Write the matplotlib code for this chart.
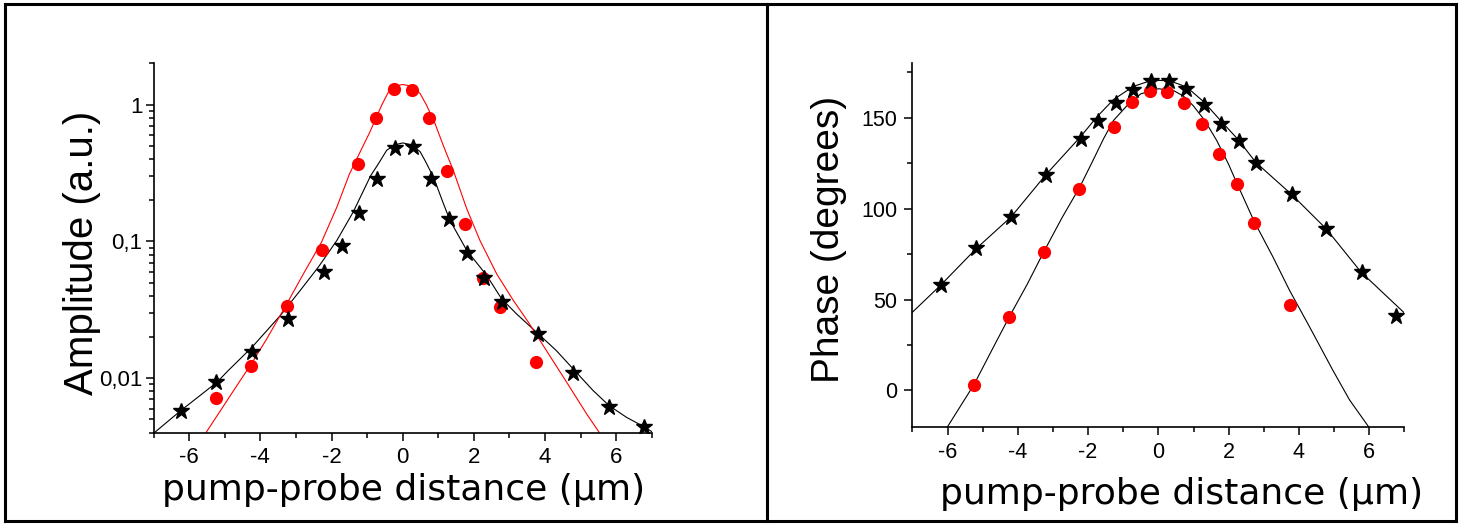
import matplotlib
matplotlib.use("Agg")
import matplotlib.pyplot as plt
from matplotlib import font_manager
from matplotlib.lines import Line2D
from matplotlib.ticker import (MultipleLocator, FixedLocator, LogLocator,
                               FixedFormatter, NullFormatter)

# ---- amplitude panel (log scale) ----
amp_circle_x = [-5.24, -4.26, -3.26, -2.26, -1.27, -0.76, -0.24, 0.25, 0.75,
                1.25, 1.75, 2.25, 2.73, 3.74]
amp_circle_y = [0.00714, 0.0122, 0.0336, 0.0869, 0.366, 0.803, 1.294, 1.286,
                0.803, 0.327, 0.133, 0.0542, 0.0330, 0.0132]

amp_star_x = [-6.24, -5.25, -4.24, -3.21, -2.21, -1.71, -1.22, -0.71, -0.22,
              0.30, 0.80, 1.30, 1.80, 2.29, 2.80, 3.79, 4.79, 5.80, 6.79]
amp_star_y = [0.00573, 0.00933, 0.0155, 0.0269, 0.0596, 0.0918, 0.162, 0.287,
              0.484, 0.490, 0.284, 0.145, 0.0826, 0.0544, 0.0363, 0.0211,
              0.0109, 0.00619, 0.00443]

amp_fit_black_x = [-7.00, -6.24, -5.22, -4.90, -4.24, -3.44, -2.88, -2.37,
                   -1.85, -1.39, -0.90, -0.68, -0.45, -0.22, 0.00, 0.25, 0.49,
                   0.65, 0.88, 1.14, 1.33, 1.80, 2.36, 2.78, 3.20, 3.76, 4.32,
                   4.79, 5.35, 5.80, 6.29, 6.81, 7.00]
amp_fit_black_y = [0.00396, 0.00579, 0.00935, 0.0114, 0.0168, 0.0287, 0.0438,
                   0.0649, 0.1016, 0.164, 0.302, 0.370, 0.463, 0.507, 0.524,
                   0.507, 0.452, 0.380, 0.288, 0.190, 0.142, 0.0859, 0.0564,
                   0.0380, 0.0295, 0.0217, 0.0159, 0.0117, 0.00813, 0.00631,
                   0.00518, 0.00438, 0.00407]

amp_fit_red_x = [-5.52, -4.60, -4.24, -3.82, -3.31, -2.79, -2.28, -1.85, -1.50,
                 -1.20, -0.92, -0.59, -0.40, -0.245, 0.00, 0.25, 0.49, 0.67,
                 0.91, 1.14, 1.42, 1.80, 2.17, 2.64, 3.11, 3.53, 4.04, 4.61,
                 5.17, 5.52]
amp_fit_red_y = [0.00403, 0.00933, 0.0129, 0.0194, 0.0330, 0.0579, 0.0989,
                 0.178, 0.309, 0.448, 0.631, 0.989, 1.236, 1.361, 1.400, 1.361,
                 1.202, 0.989, 0.724, 0.502, 0.331, 0.173, 0.1016, 0.0579,
                 0.0370, 0.0257, 0.0159, 0.00933, 0.00548, 0.00403]

amp_ticks = [0.01, 0.1, 1]
amp_ticklabels = ["0,01", "0,1", "1"]

# ---- phase panel ----
ph_star_x = [-6.20, -5.19, -4.20, -3.21, -2.21, -1.71, -1.21, -0.71, -0.22,
             0.29, 0.79, 1.29, 1.78, 2.28, 2.78, 3.79, 4.78, 5.78, 6.77]
ph_star_y = [58.0, 78.2, 95.6, 118.6, 138.2, 148.0, 158.1, 165.5, 170.2, 170.2,
             166.0, 157.0, 146.5, 137.5, 125.0, 107.8, 88.8, 64.9, 40.9]

ph_circle_x = [-5.25, -4.25, -3.26, -2.25, -1.25, -0.76, -0.25, 0.24, 0.73,
               1.23, 1.73, 2.24, 2.73, 3.74]
ph_circle_y = [3.0, 40.4, 76.4, 111.0, 144.9, 158.6, 164.5, 164.4, 158.0,
               146.7, 130.1, 113.8, 92.3, 47.1]

ph_fit_star_x = [-7.00, -6.19, -5.18, -4.19, -3.21, -2.22, -1.75, -1.28, -0.71,
                 -0.24, 0.05, 0.33, 0.80, 1.28, 1.77, 2.27, 2.77, 3.78, 4.77,
                 5.77, 7.00]
ph_fit_star_y = [43.0, 58.0, 78.1, 95.5, 118.5, 139.5, 150.5, 160.0, 167.3,
                 170.3, 170.6, 170.3, 167.0, 159.0, 148.5, 138.0, 125.5, 108.0,
                 89.0, 65.0, 42.6]

ph_fit_circle_x = [-6.00, -5.25, -4.77, -4.25, -3.73, -3.26, -2.74, -2.24,
                   -1.89, -1.56, -1.28, -0.88, -0.50, 0.00, 0.43, 0.71, 0.99,
                   1.32, 1.66, 1.99, 2.24, 2.72, 3.26, 3.73, 4.30, 4.96, 5.44,
                   5.98]
ph_fit_circle_y = [-20.0, 3.1, 21.0, 40.2, 58.5, 76.3, 95.1, 111.8, 125.4,
                   138.5, 148.5, 157.0, 163.2, 166.0, 165.0, 162.0, 156.7,
                   148.5, 137.5, 124.7, 113.7, 93.2, 73.4, 55.1, 35.0, 11.2,
                   -5.3, -20.0]

RED = "#ff0000"
W, H = 1460, 525

names = {f.name for f in font_manager.fontManager.ttflist}
narrow = "Liberation Sans Narrow" if "Liberation Sans Narrow" in names else "Liberation Sans"

plt.rcParams["axes.unicode_minus"] = False
plt.rcParams["font.family"] = ["Liberation Sans", "DejaVu Sans"]

fig = plt.figure(figsize=(W / 100, H / 100), dpi=100)


def px_axes(x0, y0, x1, y1):
    return fig.add_axes([x0 / W, 1 - y1 / H, (x1 - x0) / W, (y1 - y0) / H])


def style(ax):
    for s in ("top", "right"):
        ax.spines[s].set_visible(False)
    for s in ("left", "bottom"):
        ax.spines[s].set_linewidth(1.2)
    ax.tick_params(which="both", direction="out", width=1.1, top=False, right=False)
    ax.tick_params(which="major", length=6)
    ax.tick_params(which="minor", length=3.5)


# left panel
ax1 = px_axes(153.6, 63.3, 651.8, 432.7)
style(ax1)
ax1.set_yscale("log")
ax1.plot(amp_fit_black_x, amp_fit_black_y, color="black", lw=0.8)
ax1.plot(amp_fit_red_x, amp_fit_red_y, color=RED, lw=0.8)
ax1.plot(amp_circle_x, amp_circle_y, "o", ms=9.5, color=RED, mec="none")
ax1.plot(amp_star_x, amp_star_y, "*", ms=12, color="black", mec="black")
ax1.set_xlim(-7, 7)
ax1.set_ylim(0.004, 2.0)
ax1.xaxis.set_major_locator(MultipleLocator(2))
ax1.xaxis.set_minor_locator(MultipleLocator(1))
ax1.yaxis.set_major_locator(FixedLocator(amp_ticks))
ax1.yaxis.set_major_formatter(FixedFormatter(amp_ticklabels))
ax1.yaxis.set_minor_locator(LogLocator(base=10, subs=range(2, 10)))
ax1.yaxis.set_minor_formatter(NullFormatter())
ax1.tick_params(axis="x", pad=4, labelsize=16, labelfontfamily=narrow)
ax1.tick_params(axis="y", pad=2, labelsize=16, labelfontfamily=narrow)
ax1.set_ylabel("Amplitude (a.u.)", fontsize=29, family="Liberation Sans", va="center")
ax1.yaxis.set_label_coords(-0.1437, 0.488)
ax1.set_xlabel("pump-probe distance (\u00b5m)", fontsize=26, family="DejaVu Sans", va="center")
ax1.xaxis.set_label_coords(0.5026, -0.155)

# right panel
ax2 = px_axes(912.4, 63.3, 1404.4, 426.7)
style(ax2)
ax2.plot(ph_fit_star_x, ph_fit_star_y, color="black", lw=0.8)
ax2.plot(ph_fit_circle_x, ph_fit_circle_y, color="black", lw=0.8)
ax2.plot(ph_circle_x, ph_circle_y, "o", ms=9.5, color=RED, mec="none")
ax2.plot(ph_star_x, ph_star_y, "*", ms=12, color="black", mec="black")
ax2.set_xlim(-7, 7)
ax2.set_ylim(-20, 180)
ax2.xaxis.set_major_locator(MultipleLocator(2))
ax2.xaxis.set_minor_locator(MultipleLocator(1))
ax2.yaxis.set_major_locator(MultipleLocator(50))
ax2.yaxis.set_minor_locator(MultipleLocator(25))
ax2.tick_params(axis="x", pad=5, labelsize=15.5, labelfontfamily="Liberation Sans")
ax2.tick_params(axis="y", pad=5, labelsize=15.5, labelfontfamily="Liberation Sans")
ax2.set_ylabel("Phase (degrees)", fontsize=28, family="Liberation Sans", va="center")
ax2.yaxis.set_label_coords(-0.1695, 0.514)
ax2.set_xlabel("pump-probe distance (\u00b5m)", fontsize=26, family="DejaVu Sans", va="center")
ax2.xaxis.set_label_coords(0.547, -0.185)

# table-like frame around the two panels
lw = 2.2
kw = dict(color="black", lw=lw, transform=fig.transFigure, solid_capstyle="projecting")
x0, x1, xm = 5 / W, 1456 / W, 767 / W
y0, y1 = 1 - 521 / H, 1 - 4 / H
fig.add_artist(Line2D([x0, x1], [y1, y1], **kw))
fig.add_artist(Line2D([x0, x1], [y0, y0], **kw))
fig.add_artist(Line2D([x0, x0], [y0, y1], **kw))
fig.add_artist(Line2D([x1, x1], [y0, y1], **kw))
fig.add_artist(Line2D([xm, xm], [y0, y1], **kw))

fig.savefig("out.png", dpi=100)
